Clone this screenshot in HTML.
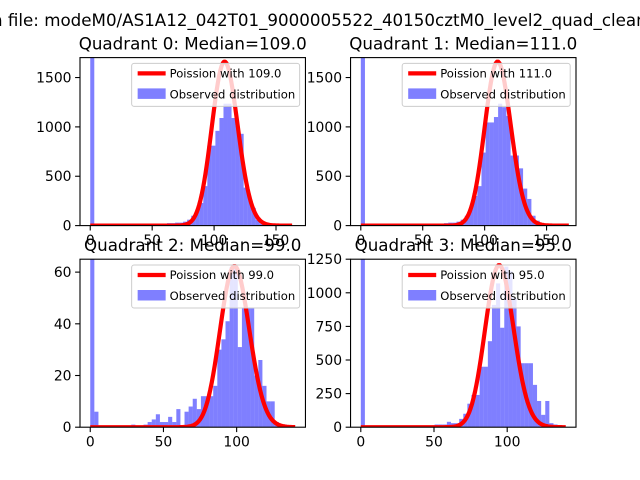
<!DOCTYPE html>
<html><head><meta charset="utf-8">
<style>
html,body{margin:0;padding:0;background:#fff;}
svg{display:block;font-family:"DejaVu Sans","Liberation Sans",sans-serif;}
</style></head>
<body>
<svg id="fig" width="640" height="480" viewBox="0 0 640 480" xmlns="http://www.w3.org/2000/svg">
<rect width="640" height="480" fill="#fff"/>
<text x="-8" y="26" font-size="16.7" fill="#000">n file: modeM0/AS1A12_042T01_9000005522_40150cztM0_level2_quad_clean.evt</text>
</svg>
<script>
// ---- data ----
const quadrantNames = ["Quadrant 0", "Quadrant 1", "Quadrant 2", "Quadrant 3"];
const medians = [109.0, 111.0, 99.0, 95.0];
const curvePeaks = [1660, 1660, 62.3, 1205];
const binMax = [163, 168, 140, 140];
const xMax = [165.5, 165.5, 140, 140];
const yMax = [1702, 1702, 65, 1250];
const xTicks0 = [0, 50, 100, 150];
const xTicks1 = [0, 50, 100, 150];
const xTicks2 = [0, 50, 100];
const xTicks3 = [0, 50, 100];
const yTicks0 = [0, 500, 1000, 1500];
const yTicks1 = [0, 500, 1000, 1500];
const yTicks2 = [0, 20, 40, 60];
const yTicks3 = [0, 250, 500, 750, 1000, 1250];
const counts0 = [3000,0,0,0,0,0,0,0,0,0, 0,0,0,0,0,0,0,0,0,25, 25,30,30,40,60,100,150,230,400,810, 810,960,1090,1235,1235,1090,1010,930,385,280, 180,60,20,5,0,0,0,0,0,0];
const counts1 = [3000,0,0,0,0,0,0,0,0,0, 0,0,0,0,0,0,0,0,20,20, 25,30,30,40,60,100,180,300,400,740, 1045,1045,1100,1235,1200,1110,710,710,580,375, 270,100,50,20,0,0,0,0,0,0];
const counts2 = [80,6,0,0,0,0,0,0,0,0, 1,0,0,1,2,3,5,2,2,4, 2,7,0,6,8,11,7,12,12,12, 16,30,34,41,62,62,31,46,46,46, 20,26,16,10,10,2,1,1,0,0];
const counts3 = [3000,0,0,0,0,0,0,0,0,0, 0,0,0,0,0,0,0,10,20,20, 20,40,30,30,62,100,175,240,240,450, 450,640,910,1070,740,1195,1160,960,750,476, 476,476,315,195,92,195,30,20,5,0];
const allCounts = [counts0, counts1, counts2, counts3];
const allXTicks = [xTicks0, xTicks1, xTicks2, xTicks3];
const allYTicks = [yTicks0, yTicks1, yTicks2, yTicks3];

// ---- layout ----
const NS = "http://www.w3.org/2000/svg";
const svg = document.getElementById("fig");
const axW = 225.45, axH = 168;
const lefts = [80, 350.55, 80, 350.55];
const tops = [57.6, 57.6, 259.2, 259.2];

function mk(tag, attrs, parent) {
  const e = document.createElementNS(NS, tag);
  for (const k in attrs) e.setAttribute(k, attrs[k]);
  (parent || svg).appendChild(e);
  return e;
}
function logFact(n) { let s = 0; for (let i = 2; i <= n; i++) s += Math.log(i); return s; }
function pmf(k, lam) { return Math.exp(k * Math.log(lam) - lam - logFact(k)); }

for (let q = 0; q < 4; q++) {
  const L = lefts[q], T = tops[q];
  const xm = xMax[q] * 0.05;
  const x0 = -xm, x1 = xMax[q] + xm;
  const X = v => L + (v - x0) / (x1 - x0) * axW;
  const Y = v => T + axH - v / yMax[q] * axH;

  const g = mk("g", {});
  
  

  const cp = mk("clipPath", { id: "clip" + q }, g);
  mk("rect", { x: L, y: T, width: axW, height: axH }, cp);

  const plot = mk("g", { "clip-path": "url(#clip" + q + ")" }, g);
  const counts = allCounts[q];
  const bw = binMax[q] / counts.length;
  for (let i = 0; i < counts.length; i++) {
    if (counts[i] <= 0) continue;
    const xa = X(i * bw), xb = X((i + 1) * bw);
    const r = mk("rect", { x: xa, y: Y(counts[i]), width: xb - xa, height: Y(0) - Y(counts[i]), fill: "#0000ff", "fill-opacity": 0.5 }, plot);
    
    
  }
  const lam = medians[q];
  let pmax = 0;
  for (let k = 0; k <= binMax[q]; k++) pmax = Math.max(pmax, pmf(k, lam));
  const amp = curvePeaks[q] / pmax;
  let d = "";
  for (let k = 0; k <= binMax[q]; k++) {
    d += (k ? "L" : "M") + X(k).toFixed(2) + "," + Y(amp * pmf(k, lam)).toFixed(2);
  }
  const line = mk("path", { d: d, fill: "none", stroke: "#ff0000", "stroke-width": 4.2, "stroke-linejoin": "round", "stroke-linecap": "butt" }, plot);
  
  

  const sp = mk("rect", { x: L, y: T, width: axW, height: axH, fill: "none", stroke: "#000", "stroke-width": 1.1 }, g);
  
  

  for (const t of allXTicks[q]) {
    const x = X(t);
    mk("line", { x1: x, y1: T + axH, x2: x, y2: T + axH + 4.9, stroke: "#000", "stroke-width": 1.1 }, g);
    const tx = mk("text", { x: x, y: T + axH + 19.5, "font-size": 13.9, "text-anchor": "middle", fill: "#000" }, g);
    tx.textContent = String(t);
    
    
  }
  for (const t of allYTicks[q]) {
    const y = Y(t);
    mk("line", { x1: L - 4.9, y1: y, x2: L, y2: y, stroke: "#000", "stroke-width": 1.1 }, g);
    const ty = mk("text", { x: L - 8.5, y: y + 5, "font-size": 13.9, "text-anchor": "end", fill: "#000" }, g);
    ty.textContent = String(t);
    
    
  }
  const tt = mk("text", { x: L + axW / 2, y: T - 8, "font-size": 16.7, "text-anchor": "middle", fill: "#000" }, g);
  tt.textContent = quadrantNames[q] + ": Median=" + medians[q].toFixed(1);
  
  

  const lg = mk("g", {}, g);
  
  
  const lw = 168, lh = 43;
  const lx = L + axW - 5.8 - lw, ly = T + 5.8;
  mk("rect", { x: lx, y: ly, width: lw, height: lh, rx: 2.5, fill: "#ffffff", "fill-opacity": 0.8, stroke: "#cccccc", "stroke-width": 1 }, lg);
  const e1 = mk("line", { x1: lx + 6, y1: ly + 10, x2: lx + 34, y2: ly + 10, stroke: "#ff0000", "stroke-width": 4.2 }, lg);
  
  
  const t1 = mk("text", { x: lx + 38, y: ly + 14, "font-size": 11.6, fill: "#000" }, lg);
  t1.textContent = "Poission with " + medians[q].toFixed(1);
  const e2 = mk("rect", { x: lx + 6, y: ly + 25, width: 28, height: 10.5, fill: "#0000ff", "fill-opacity": 0.5 }, lg);
  
  
  const t2 = mk("text", { x: lx + 38, y: ly + 35, "font-size": 11.6, fill: "#000" }, lg);
  t2.textContent = "Observed distribution";
}
</script>
</body></html>
